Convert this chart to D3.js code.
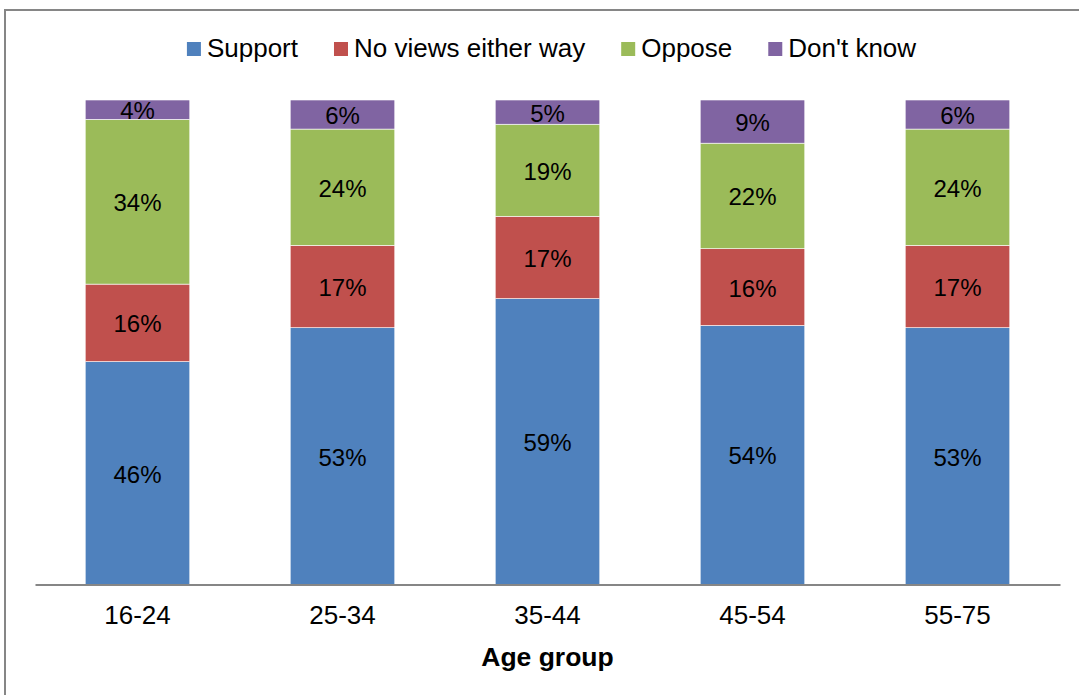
<!DOCTYPE html>
<html>
<head>
<meta charset="utf-8">
<script src="https://cdn.jsdelivr.net/npm/d3@7"></script>
<style>
  html, body { margin: 0; padding: 0; background: #fff; }
  svg { display: block; font-family: "Liberation Sans", Arial, sans-serif; }
</style>
</head>
<body>
<svg id="chart" width="1079" height="695"></svg>
<script>
const categories = ["16-24", "25-34", "35-44", "45-54", "55-75"];
const seriesNames = ["Support", "No views either way", "Oppose", "Don't know"];
const seriesColors = ["#4F81BD", "#C0504D", "#9BBB59", "#8064A2"];
const support = [46, 53, 59, 54, 53];
const noViews = [16, 17, 17, 16, 17];
const oppose = [34, 24, 19, 22, 24];
const dontKnow = [4, 6, 5, 9, 6];
const xTitle = "Age group";

const seriesValues = [support, noViews, oppose, dontKnow];
const rows = categories.map((c, i) => {
  const r = { cat: c };
  seriesNames.forEach((s, j) => r[s] = seriesValues[j][i]);
  r.total = seriesValues.reduce((a, arr) => a + arr[i], 0);
  return r;
});
// normalized (100% stacked)
const normRows = rows.map(r => {
  const o = { cat: r.cat };
  seriesNames.forEach(s => o[s] = r[s] / r.total);
  return o;
});

const svg = d3.select("#chart");
const W = 1079, H = 695;
const FS = 26;

// outer border
svg.append("rect").attr("x", 5).attr("y", 10).attr("width", W + 10).attr("height", H + 10)
  .attr("fill", "#fff").attr("stroke", "#868686").attr("stroke-width", 2);

const plot = { left: 35, right: 1060, top: 100, bottom: 584.5 };

const x = d3.scaleBand().domain(categories).range([plot.left, plot.right]).paddingInner(0.49).paddingOuter(0.245);
const y = d3.scaleLinear().domain([0, 1]).range([plot.bottom, plot.top]);

const stack = d3.stack().keys(seriesNames);
const stacked = stack(normRows);

const g = svg.append("g");
stacked.forEach((layer, li) => {
  const lg = g.append("g");
  lg.selectAll("rect").data(layer).enter().append("rect")
    .attr("x", d => x(d.data.cat))
    .attr("width", x.bandwidth())
    .attr("y", d => y(d[1]))
    .attr("height", d => y(d[0]) - y(d[1]))
    .attr("fill", seriesColors[li])
    .attr("stroke", "#ffffff").attr("stroke-width", 0.6);
  lg.selectAll("text").data(layer).enter().append("text")
    .attr("x", d => x(d.data.cat) + x.bandwidth() / 2)
    .attr("y", d => (y(d[0]) + y(d[1])) / 2 + 1)
    .attr("text-anchor", "middle")
    .attr("dominant-baseline", "central")
    .attr("font-size", 24)
    .attr("fill", "#000")
    .text((d, i) => seriesValues[li][i] + "%");
});

// x axis
const xAxis = d3.axisBottom(x).tickSize(0).tickPadding(21);
const ax = svg.append("g").attr("transform", `translate(0,${plot.bottom})`).call(xAxis);
ax.select(".domain").attr("stroke", "#868686").attr("stroke-width", 2);
ax.selectAll("text").attr("font-size", FS).attr("fill", "#000")
  .attr("font-family", "'Liberation Sans', Arial, sans-serif");

svg.append("text").attr("x", (plot.left + plot.right) / 2).attr("y", 666)
  .attr("text-anchor", "middle").attr("font-size", 26.5).attr("font-weight", "bold")
  .text(xTitle);

// legend
const leg = svg.append("g");
let cx = 0;
const GAP = 36;
seriesNames.forEach((s, i) => {
  const it = leg.append("g").attr("transform", `translate(${cx},0)`);
  it.append("rect").attr("x", 0).attr("y", 42).attr("width", 14).attr("height", 14).attr("fill", seriesColors[i]);
  const t = it.append("text").attr("x", 20).attr("y", 57).attr("font-size", FS).text(s);
  const w = 20 + t.node().getComputedTextLength();
  cx += w + GAP;
});
const legW = cx - GAP;
leg.attr("transform", `translate(${551.5 - legW / 2},0)`);
</script>
</body>
</html>
